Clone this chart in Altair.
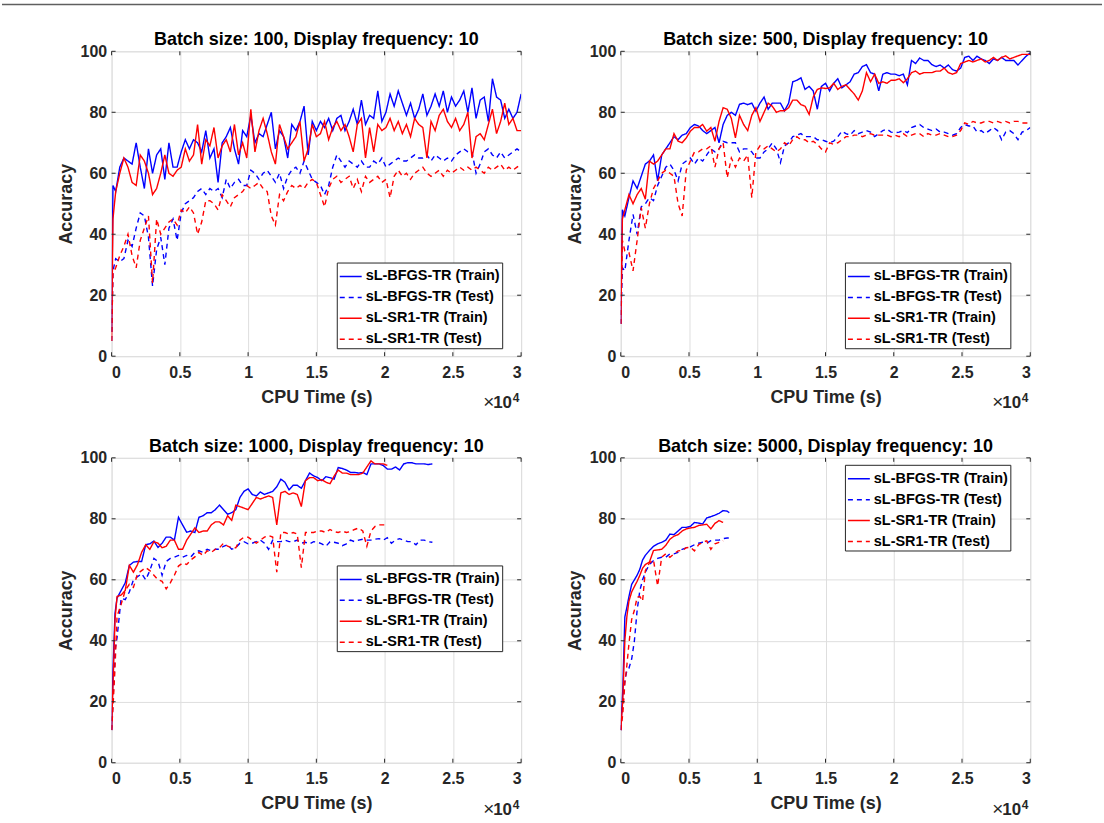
import altair as alt
import pandas as pd

FONT = "Liberation Sans"
SERIES = ["sL-BFGS-TR (Train)", "sL-BFGS-TR (Test)", "sL-SR1-TR (Train)", "sL-SR1-TR (Test)"]
COLORS = ["#0000ff", "#0000ff", "#ff0000", "#ff0000"]
DASHES = [[1, 0], [5, 4], [1, 0], [5, 4]]
TITLES = [
    "Batch size: 100, Display frequency: 10",
    "Batch size: 500, Display frequency: 10",
    "Batch size: 1000, Display frequency: 10",
    "Batch size: 5000, Display frequency: 10",
]
X_TICKS = [0, 5000, 10000, 15000, 20000, 25000, 30000]
Y_TICKS = [0, 20, 40, 60, 80, 100]

# ---------------- Batch size 100 ----------------
T_100 = [0, 100] + list(range(300, 30001, 300))
B100_TRAIN = [8, 56, 54, 62, 65, 64, 63, 70, 62, 55,
              68, 60, 66, 68, 58, 70, 62, 62, 67, 71,
              68, 71, 70, 67, 74, 65, 68, 57, 70, 72,
              75, 68, 63, 74, 72, 79, 70, 73, 72, 76,
              80, 68, 74, 72, 65, 76, 74, 77, 82, 66,
              77, 74, 77, 75, 78, 74, 78, 79, 74, 77,
              81, 76, 84, 76, 79, 78, 87, 77, 80, 86,
              82, 87, 83, 79, 83, 78, 81, 86, 79, 82,
              86, 82, 87, 80, 85, 82, 84, 87, 80, 88,
              78, 84, 85, 77, 91, 85, 84, 78, 81, 78,
              80, 86]
B100_TEST = [5, 28, 32, 31, 32, 38, 36, 42, 47, 46,
             39, 23, 35, 39, 30, 42, 45, 38, 47, 50,
             51, 52, 54, 55, 53, 55, 54, 55, 52, 58,
             55, 57, 58, 56, 56, 61, 60, 58, 60, 61,
             59, 57, 60, 55, 59, 61, 62, 60, 64, 61,
             58, 57, 56, 53, 56, 62, 66, 64, 62, 64,
             63, 62, 64, 62, 62, 64, 63, 65, 62, 63,
             64, 65, 64, 64, 65, 66, 65, 65, 66, 64,
             66, 65, 64, 65, 64, 66, 67, 68, 67, 67,
             60, 63, 67, 68, 66, 65, 67, 65, 66, 67,
             68, 67]
S100_TRAIN = [5, 45, 54, 60, 65, 62, 57, 56, 66, 64,
              60, 53, 55, 60, 66, 60, 59, 61, 62, 68,
              64, 66, 76, 63, 71, 69, 75, 65, 69, 71,
              67, 76, 66, 70, 65, 81, 67, 74, 78, 73,
              67, 63, 76, 72, 68, 70, 72, 77, 64, 68,
              76, 72, 73, 77, 71, 75, 77, 74, 76, 72,
              67, 76, 78, 65, 75, 67, 76, 74, 75, 78,
              74, 77, 73, 76, 72, 78, 76, 75, 65, 77,
              74, 79, 81, 77, 75, 78, 74, 76, 80, 65,
              72, 73, 71, 76, 81, 73, 77, 83, 76, 78,
              74, 74]
S100_TEST = [5, 27, 29, 33, 36, 40, 33, 29, 38, 42,
             46, 24, 45, 40, 42, 44, 45, 43, 48, 47,
             49, 47, 40, 44, 51, 51, 50, 48, 53, 51,
             49, 52, 53, 54, 56, 55, 56, 57, 55, 54,
             46, 43, 53, 51, 54, 56, 55, 56, 55, 57,
             58, 57, 53, 49, 55, 58, 59, 57, 58, 59,
             55, 58, 54, 59, 57, 58, 59, 57, 58, 52,
             59, 61, 59, 60, 58, 60, 61, 62, 60, 59,
             60, 61, 59, 61, 60, 61, 62, 61, 62, 61,
             62, 61, 60, 62, 61, 62, 63, 61, 62, 61,
             62, 63]

# ---------------- Batch size 500 ----------------
T_500 = [0, 120] + list(range(300, 30001, 300))
B500_TRAIN = [10.6, 48, 46, 52, 57.5, 55, 59, 63, 64, 66,
              57.5, 66, 68, 70, 72, 71, 72.5, 73, 75, 76,
              75.5, 74, 73, 74, 75, 70, 76, 79, 80, 79,
              82.6, 83, 82.5, 83, 80.4, 83, 85, 81, 83, 83,
              83, 80.5, 83, 90, 90.5, 91.3, 87.5, 88.5, 87, 81,
              88.5, 89.5, 87, 89.5, 91, 88, 89, 90, 92.5, 93,
              95, 95.6, 93, 92.5, 87, 92.5, 93, 92.5, 92.5, 92,
              92.5, 89, 97, 96, 97.8, 97, 97, 95.6, 95, 95.5,
              94.5, 95.5, 94, 93.5, 94.5, 98, 98.4, 97, 98.4, 97.5,
              97, 96, 97.5, 97, 98, 97, 97, 97, 95.5, 97,
              98.4, 99.5]
B500_TEST = [10.6, 29, 28, 38, 46.5, 40, 49, 50, 52, 51,
             56, 59, 62, 63, 61, 57.5, 63, 64, 65, 63,
             65, 64, 66, 68, 67, 68, 70.5, 70, 70, 70,
             67, 68, 68, 67, 65, 65, 67, 68, 70, 68,
             63.5, 69, 70, 72, 72.5, 73, 72, 72, 72, 71,
             71, 70.5, 70, 70.5, 72, 73.8, 73, 72.5, 74, 73,
             73.5, 74, 73.5, 72, 73, 74, 74.5, 73.5, 73.3, 73.5,
             74, 73.3, 75, 75.5, 76, 75, 74.5, 74, 74.5, 73.5,
             73.5, 73, 72.5, 73, 75, 76, 75.5, 75.5, 73.5, 74,
             73, 74, 75, 74, 71, 73.5, 74, 73, 71, 73.5,
             74, 75]
S500_TRAIN = [10.6, 45, 48, 53, 50, 53, 55, 51.5, 64, 63,
              64, 66, 68, 68, 73, 70.5, 70, 71.6, 73.8, 75,
              75, 76, 73.8, 75, 70.5, 77, 81.5, 81, 78, 71.6,
              79, 76, 74, 79, 81.5, 77, 80, 83, 82, 80,
              80.5, 80.5, 81.5, 84, 84, 82.5, 82, 79.3, 85, 87.5,
              88, 87.8, 88, 89.5, 87.5, 88.5, 89, 87.5, 86, 84,
              87, 93, 90, 92.5, 89.5, 90, 89.5, 90.5, 90.5, 91,
              89.7, 91, 93, 93.5, 92.5, 93, 93, 93, 93.5, 93.5,
              94.5, 93, 92.5, 93, 96, 96.5, 97, 96.5, 97, 97.5,
              96.5, 97, 98, 97, 98, 98.5, 97.5, 98, 98.5, 99,
              99, 99]
S500_TEST = [10.6, 38, 34.5, 34, 28, 38, 48.7, 42, 50, 55,
             57.5, 60, 61, 60, 59, 50, 46, 61, 64, 67,
             67, 68, 68, 69, 62, 68, 70, 58.5, 65, 62,
             65, 64, 66, 52, 67, 69, 68, 69, 68, 67,
             68, 70, 69, 71, 72, 71, 71, 70, 70.5, 69.5,
             68, 67, 70, 69.5, 70, 71, 72, 72, 72.5, 72.5,
             72, 72.5, 73, 72.5, 72.5, 72.5, 72.5, 72, 72.5, 72,
             73, 72, 72.5, 73, 73, 72, 73, 72.5, 72.5, 73,
             72.5, 72, 72, 72.5, 74, 76.5, 76, 77, 76.5, 76.5,
             77, 77, 76.5, 77, 76.5, 77, 76.5, 77, 77, 76.5,
             76.5, 76.5]

# ---------------- Batch size 1000 ----------------
T_1000 = [0, 100, 250] + list(range(400, 23501, 300))
B1000_TRAIN = [10.7, 30, 49,
               54, 56.5, 59, 64.7, 65.8, 66, 66, 71.5,
               71.8, 72.7, 70.6, 72, 74, 74, 73, 80.5, 78, 75.6,
               76, 75.5, 80.5, 81, 82, 82, 83, 84.5, 83, 81.5,
               82, 83, 87, 89, 89.8, 88, 87.5, 88.8, 88, 88.5,
               89, 90.5, 93, 92, 89.5, 91, 91, 90, 92.5, 95,
               94.1, 93.5, 92.5, 93.8, 93.5, 93, 96.8, 96.5, 96, 95.2,
               95.2, 95, 95.2, 94.5, 98, 98, 98, 97.5, 96.3, 96.3,
               97, 96, 98, 98.4, 98.4, 98, 98, 98, 97.8, 98]
B1000_TEST = [10.7, 20, 37,
              41, 54, 53.5, 56, 60, 61, 62, 60,
              63, 67, 66, 61.5, 66, 67, 67.4, 68, 67.4, 68,
              67.5, 69, 69.5, 69, 70, 69.5, 70, 70, 71, 71.5,
              70, 70.5, 72, 72.5, 71.8, 72, 72.5, 73, 72, 70,
              73, 72.5, 72.5, 73, 72.5, 72.5, 73, 72, 72.3, 71.8,
              72.5, 72.3, 71.8, 71, 72.5, 72.3, 72, 71.2, 71.8, 73,
              72.5, 73, 73.3, 73, 73, 73.3, 73.5, 73, 73.8, 72,
              73, 73.5, 73, 72.5, 72.5, 71.5, 73, 73, 72.5, 72.3]
S1000_TRAIN = [10.7, 25, 47,
               54.5, 55, 56.5, 64.7, 62.5, 65, 69, 71.5,
               70, 72.5, 72, 70.5, 71, 73, 73, 70, 70, 73,
               75, 77, 75.5, 76, 76, 78, 79, 79, 78, 81,
               79.5, 84.5, 84, 83.5, 83, 85, 87, 86.5, 87, 87.5,
               87, 78, 88.5, 89, 88, 88.5, 88, 84, 92.5, 93.5,
               93.5, 92.5, 92.8, 92, 91.5, 94, 96, 95, 95, 94.5,
               94.5, 94.5, 95, 97, 99, 98, 98, 98, 97.5]
S1000_TEST = [10.7, 18, 31,
              48, 52, 56.5, 58.5, 57.5, 62, 63, 64,
              63, 61.5, 60, 59.5, 57, 59, 61.5, 64.5, 65.5, 65,
              66.5, 67.5, 69, 68, 69.5, 69, 70, 70.5, 72, 71,
              70.5, 70.5, 73, 74, 74, 73, 72, 73, 74, 74.5,
              74, 62.5, 75.5, 75.5, 75, 75.5, 75, 64, 75.5, 75.5,
              75.5, 76, 76, 75.5, 76.5, 75.8, 75.5, 76, 75.5, 75.8,
              76.5, 77, 76, 71, 76, 77.5, 78, 78, 78]

# ---------------- Batch size 5000 ----------------
T_5000 = [0, 150, 300, 450, 600, 800, 1000, 1200, 1400, 1600, 1800, 2100, 2400, 2700,
          3000, 3300, 3600, 3900, 4200, 4500, 4800, 5100, 5400, 5700, 6000, 6300, 6600,
          6900, 7200, 7500, 7800, 7950]
B5000_TRAIN = [10.7, 24, 47.8, 51, 54.5, 58.5, 60, 61.5, 63.5, 66.5,
               68, 69.6, 71, 71.8, 72.3, 73, 75, 74.8, 76, 77.2,
               77.2, 77.5, 78.8, 78.6, 78.3, 80.3, 80.7, 81.2, 81.8, 82.7,
               82.5, 82]
B5000_TEST = [10.7, 19.4, 27, 30.3, 31, 34, 40, 50, 56.5, 60,
              62.5, 65, 66.3, 67, 67.4, 67.4, 68.5, 68.5, 69, 70,
              70.5, 70.8, 71.5, 72, 72.3, 72, 72.8, 73, 73, 73.5,
              73.7, 73.7]
S5000_TRAIN = [10.7, 20.5, 40, 48, 53, 56, 57.8, 59.5, 61.5, 63.8,
               65, 65.8, 69.6, 69.8, 70, 71.3, 73.3, 74.3, 74.8, 76,
               76.7, 77, 77.2, 77.8, 78, 78.2, 76.7, 78.5, 79.4, 78.8]
S5000_TEST = [10.7, 16, 26, 32, 39, 47, 50, 54.3, 54.5, 53,
              63, 65.5, 66.5, 58, 67.4, 68.5, 67.4, 68.5, 69.5, 69.6,
              70.5, 70.7, 69.5, 71.5, 72.3, 72.8, 70, 71.8, 72.3, 72.8]

PANELS = [
    (T_100, [B100_TRAIN, B100_TEST, S100_TRAIN, S100_TEST]),
    (T_500, [B500_TRAIN, B500_TEST, S500_TRAIN, S500_TEST]),
    (T_1000, [B1000_TRAIN, B1000_TEST, S1000_TRAIN, S1000_TEST]),
    (T_5000, [B5000_TRAIN, B5000_TEST, S5000_TRAIN, S5000_TEST]),
]
LEGEND_POS = [(226, 212), (225, 212), (226, 108), (225, 7)]

W, H = 411, 306
TXT = "#262626"


def panel_df(times, series_vals):
    rows = []
    for name, vals in zip(SERIES, series_vals):
        assert len(vals) <= len(times), (name, len(vals), len(times))
        for t, v in zip(times, vals):
            rows.append({"series": name, "t": t, "acc": v})
    return pd.DataFrame(rows)


def make_panel(i):
    times, vals = PANELS[i]
    df = panel_df(times, vals)
    lx, ly = LEGEND_POS[i]
    leg = alt.Legend(
        orient="none", legendX=lx, legendY=ly, title=None,
        symbolType="stroke", symbolSize=484, symbolStrokeWidth=1.5,
        labelFont=FONT, labelFontSize=14.5, labelFontWeight="bold", labelColor="black",
        strokeColor=TXT, fillColor="white", padding=2, rowPadding=2,
        labelOffset=3, labelLimit=400, cornerRadius=0,
    )
    xscale = alt.Scale(domain=[0, 30000], nice=False, zero=False)
    yscale = alt.Scale(domain=[0, 100], nice=False)
    xaxis = alt.Axis(
        values=X_TICKS, labelExpr="datum.value / 10000", title="CPU Time (s)",
        grid=True, gridColor="#dedede", tickSize=0, domain=False,
        labelFont=FONT, labelFontSize=16, labelFontWeight="bold", labelColor=TXT,
        labelPadding=8, titleFont=FONT, titleFontSize=18, titleFontWeight="bold",
        titleColor=TXT, titlePadding=8,
    )
    yaxis = alt.Axis(
        values=Y_TICKS, title="Accuracy",
        grid=True, gridColor="#dedede", tickSize=0, domain=False,
        labelFont=FONT, labelFontSize=16, labelFontWeight="bold", labelColor=TXT,
        labelPadding=5, titleFont=FONT, titleFontSize=18, titleFontWeight="bold",
        titleColor=TXT, titlePadding=5,
    )
    lines = alt.Chart(df).mark_line(strokeWidth=1.4, clip=True).encode(
        x=alt.X("t:Q", scale=xscale, axis=xaxis),
        y=alt.Y("acc:Q", scale=yscale, axis=yaxis),
        color=alt.Color("series:N", scale=alt.Scale(domain=SERIES, range=COLORS), legend=leg),
        strokeDash=alt.StrokeDash("series:N", scale=alt.Scale(domain=SERIES, range=DASHES), legend=leg),
    )
    xt = pd.DataFrame({"t": X_TICKS})
    yt = pd.DataFrame({"acc": Y_TICKS})
    tick_style = dict(color=TXT, strokeWidth=1)
    bx = alt.Chart(xt).mark_rule(**tick_style).encode(
        x=alt.X("t:Q", scale=xscale, axis=xaxis), y=alt.value(H), y2=alt.value(H - 4))
    tx = alt.Chart(xt).mark_rule(**tick_style).encode(
        x=alt.X("t:Q", scale=xscale, axis=xaxis), y=alt.value(0), y2=alt.value(4))
    ly_ = alt.Chart(yt).mark_rule(**tick_style).encode(
        y=alt.Y("acc:Q", scale=yscale, axis=yaxis), x=alt.value(0), x2=alt.value(4))
    ry = alt.Chart(yt).mark_rule(**tick_style).encode(
        y=alt.Y("acc:Q", scale=yscale, axis=yaxis), x=alt.value(W), x2=alt.value(W - 4))
    one = pd.DataFrame({"s": ["×"], "a": ["10"], "b": ["4"], "title": [TITLES[i]]})
    title_txt = alt.Chart(one).mark_text(
        font=FONT, fontSize=18, fontWeight="bold", color="black", align="center", baseline="alphabetic"
    ).encode(x=alt.value(W / 2), y=alt.value(-6), text="title:N")
    times_sign = alt.Chart(one).mark_text(
        font=FONT, fontSize=19, fontWeight="normal", color=TXT, align="right", baseline="alphabetic"
    ).encode(x=alt.value(384), y=alt.value(358), text="s:N")
    ten = alt.Chart(one).mark_text(
        font=FONT, fontSize=17, fontWeight="bold", color=TXT, align="left", baseline="alphabetic"
    ).encode(x=alt.value(383), y=alt.value(358), text="a:N")
    four = alt.Chart(one).mark_text(
        font=FONT, fontSize=12, fontWeight="bold", color=TXT, align="left", baseline="alphabetic"
    ).encode(x=alt.value(402.5), y=alt.value(352), text="b:N")
    layers = [lines, bx, tx, ly_, ry, title_txt, times_sign, ten, four]
    if i == 0:
        # thin page rule at the very top, plus an invisible guide fixing the page origin
        top_line = alt.Chart(one).mark_rule(color="#5f5f5f", strokeWidth=1.5).encode(
            x=alt.value(-110), x2=alt.value(994), y=alt.value(-47))
        guide = alt.Chart(one).mark_rule(color="white", strokeWidth=1, opacity=0).encode(
            x=alt.value(-110), x2=alt.value(994), y=alt.value(-49))
        layers += [top_line, guide]
    return alt.layer(*layers).properties(width=W, height=H).resolve_scale(
        color="shared", strokeDash="shared")


chart = alt.concat(
    make_panel(0), make_panel(1), make_panel(2), make_panel(3),
    columns=2, spacing={"row": 102, "column": 100}, bounds="flush",
).resolve_scale(
    color="independent", strokeDash="independent"
).resolve_legend(color="independent", strokeDash="independent").properties(
    padding=0,
).configure_view(stroke=TXT, strokeWidth=1).configure(background="white")

chart.save("out.html", embed_options={"renderer": "svg", "actions": False})
